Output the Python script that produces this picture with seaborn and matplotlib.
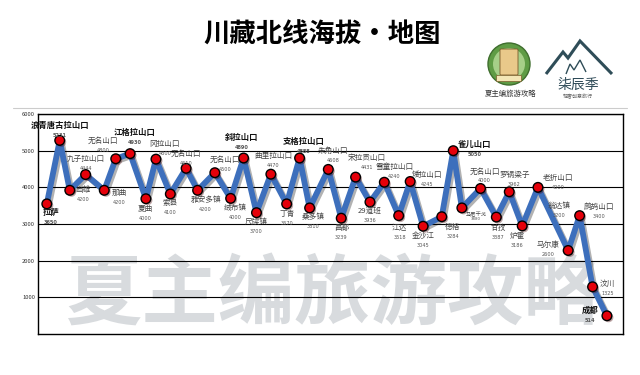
import matplotlib
matplotlib.use("Agg")
import matplotlib.pyplot as plt
import matplotlib.patheffects as pe
from matplotlib.patches import Circle, Polygon, FancyBboxPatch
from matplotlib.lines import Line2D
import seaborn as sns
import pandas as pd

# stops along the northern Sichuan-Tibet route (Lhasa -> Chengdu)
places = ["拉萨", "浪青唐古拉山口", "当雄", "九子拉山口", "那曲", "无名山口", "江格拉山口",
          "夏曲", "冈拉山口", "索县", "无名山口", "雅安多镇", "无名山口", "绒布镇", "斜拉山口",
          "尺牍镇", "曲里拉山口", "丁青", "支格拉山口", "桑多镇", "朱角山口", "昌都", "宋拉贡山口",
          "29道班", "雪童拉山口", "江达", "矮拉山口", "金沙江", "德格", "雀儿山口", "马尼干戈",
          "无名山口", "甘孜", "罗锅梁子", "炉霍", "老折山口", "马尔康", "鹧鸪山口", "汶川", "成都"]
# position along the route (as drawn)
route_pos = [0.0, 0.9, 1.6, 2.7, 4.0, 4.8, 5.8, 6.9, 7.6, 8.6, 9.7, 10.5, 11.7, 12.8, 13.7,
             14.6, 15.6, 16.7, 17.6, 18.3, 19.6, 20.5, 21.5, 22.5, 23.5, 24.5, 25.3, 26.2,
             27.5, 28.3, 28.9, 30.2, 31.3, 32.2, 33.1, 34.2, 36.3, 37.1, 38.0, 39.0]
# elevation as plotted (m)
elevation = [3550, 5280, 3920, 4350, 3920, 4780, 4920, 3690, 4770, 3820, 4520, 3920, 4400,
             3700, 4800, 3310, 4360, 3550, 4800, 3440, 4490, 3160, 4280, 3600, 4140, 3230,
             4160, 2940, 3200, 5000, 3440, 3970, 3190, 3880, 2950, 4000, 2280, 3230, 1290, 500]
# elevation as written on the labels (m)
label_elev = [3650, 5231, 4200, 4444, 4200, 4800, 4930, 4000, 4800, 4100, 4610, 4200, 4500,
              4000, 4890, 3700, 4470, 3670, 4888, 3810, 4608, 3239, 4431, 3936, 4240, 3518,
              4245, 3045, 3284, 5050, 3880, 4000, 3387, 3962, 3186, 4000, 2600, 3400, 1325, 514]
major = {"拉萨", "浪青唐古拉山口", "江格拉山口", "斜拉山口", "支格拉山口", "雀儿山口", "成都"}
extra_name, extra_elev = "翁达镇", 3200
y_ticks = [1000, 2000, 3000, 4000, 5000, 6000]

# label offsets from each dot in pixels (dx, dy downwards)
offsets = [(4, 9), (0, -15), (13, 0), (0, -16), (15, 3), (-13, -18), (5, -21), (-1, 10),
           (9, -15), (0, 9), (0, -14), (8, 10), (10, -13), (5, 10), (-2, -21), (0, 9),
           (2, -18), (0, 10), (4, -17), (3, 9), (5, -18), (0, 10), (11, -19), (0, 9),
           (10, -15), (1, 12), (17, -7), (0, 10), (11, 10), (21, -6), (14, 6), (4, -17),
           (2, 11), (5, -17), (-5, 10), (20, -9), (-20, -5), (19, -9), (15, -3), (-17, -5)]

sns.set_style("white")
plt.rcParams['font.family'] = ['Noto Sans CJK SC', 'DejaVu Sans']

df = pd.DataFrame({"pos": route_pos, "elev": elevation})

fig = plt.figure(figsize=(6.4, 3.75), dpi=100)
ax = fig.add_axes([0.059, 0.109, 0.914, 0.587])

sns.lineplot(data=df, x="pos", y="elev", ax=ax, color="#3d6fbc", linewidth=4.2, zorder=3,
             path_effects=[pe.SimpleLineShadow(offset=(1.5, -1.5), alpha=0.3), pe.Normal()])
sns.scatterplot(data=df, x="pos", y="elev", ax=ax, s=48, color="#e5000a", edgecolor="black",
                linewidth=1, zorder=4,
                path_effects=[pe.withSimplePatchShadow(offset=(1.2, -1.2), alpha=0.35)])

for i, name in enumerate(places):
    dx, dy = offsets[i]
    bold = name in major
    small = name == "马尼干戈"
    ax.annotate(name, (route_pos[i], elevation[i]), xytext=(dx, -dy),
                textcoords="offset pixels", ha="center", va="center",
                fontsize=3.8 if small else (6 if bold else 5.5),
                fontweight="bold" if bold else "normal",
                color="#111111" if bold else "#444444", zorder=5)
    gap = 5 if small else (10 if bold else 9.5)
    ax.annotate(str(label_elev[i]), (route_pos[i], elevation[i]), xytext=(dx, -dy - gap),
                textcoords="offset pixels", ha="center", va="center",
                fontsize=2.8 if small else 3.6, family="DejaVu Sans",
                fontweight="bold" if bold else "normal", color="#555555", zorder=5)

# 翁达镇 label (no dot of its own on the chart)
ax.annotate(extra_name, (route_pos[35], elevation[35]), xytext=(21, -19),
            textcoords="offset pixels", ha="center", va="center", fontsize=5.5, color="#444444")
ax.annotate(str(extra_elev), (route_pos[35], elevation[35]), xytext=(21, -28.5),
            textcoords="offset pixels", ha="center", va="center", fontsize=3.6,
            family="DejaVu Sans", color="#555555")

ax.set_xlim(-0.63, 40.1)
ax.set_ylim(0, 6000)
ax.set_xticks([])
ax.set_yticks(y_ticks)
ax.set_yticklabels([str(t) for t in y_ticks], fontsize=4.2, color="#333333")
ax.tick_params(axis="y", length=0, pad=2)
ax.set_xlabel("")
ax.set_ylabel("")
ax.yaxis.grid(True, color="black", linewidth=0.8)
ax.set_axisbelow(True)
for sp in ax.spines.values():
    sp.set_color("black")
    sp.set_linewidth(1)

# watermark
ax.text(0.505, 0.18, "夏主编旅游攻略", transform=ax.transAxes, ha="center", va="center",
        fontsize=55, fontweight="bold", color="#d8dbde", zorder=0.2)

fig.text(0.503, 0.907, "川藏北线海拔・地图", ha="center", va="center", fontsize=19,
         fontweight="bold", color="black")
fig.add_artist(Line2D([0.02, 0.98], [1 - 108 / 375] * 2, color="#cccccc", linewidth=0.8))

# logos, top right
lax = fig.add_axes([0, 0, 1, 1])
lax.set_xlim(0, 640)
lax.set_ylim(375, 0)
lax.axis("off")
lax.add_patch(Circle((509, 64), 21, facecolor="#5f9c45", edgecolor="#3f6e2e", linewidth=1))
lax.add_patch(Circle((509, 64), 16, facecolor="#a6cf88", edgecolor="none"))
lax.add_patch(FancyBboxPatch((501, 50), 16, 24, boxstyle="round,pad=1",
                             facecolor="#e9c98a", edgecolor="#7a5a2a", linewidth=0.6))
lax.add_patch(FancyBboxPatch((497, 76), 24, 5, boxstyle="round,pad=0.5",
                             facecolor="#f3e6b5", edgecolor="#7a5a2a", linewidth=0.5))
lax.text(511, 94, "夏主编旅游攻略", ha="center", va="center", fontsize=5.3, color="#333333")
lax.add_patch(Polygon([(546, 74), (563, 52), (568, 58), (580, 41), (612, 74)], closed=False,
                      fill=False, edgecolor="#2f4d58", linewidth=2.2, joinstyle="miter"))
lax.add_patch(Polygon([(566, 74), (570, 64), (574, 70), (580, 60), (586, 72)], closed=False,
                      fill=False, edgecolor="#2f4d58", linewidth=1))
lax.text(578, 85, "柒辰季", ha="center", va="center", fontsize=10, color="#2e4a57")
lax.text(578, 97, "轻奢创意旅行", ha="center", va="center", fontsize=3.6, color="#666666")

fig.savefig("out.png", dpi=100)
